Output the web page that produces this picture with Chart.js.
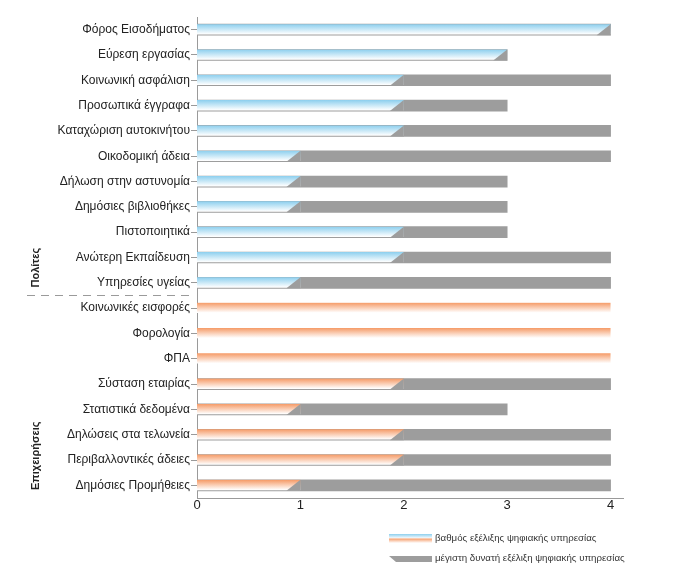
<!DOCTYPE html>
<html><head><meta charset="utf-8">
<script src="https://cdn.jsdelivr.net/npm/chart.js@4"></script>
<style>html,body{margin:0;padding:0;background:#fff}#wrap{width:687px;height:579px;position:relative}</style>
</head><body><div id="wrap"><canvas id="c" width="687" height="579"></canvas></div>
<script>
const categories = [
  'Φόρος Εισοδήματος','Εύρεση εργασίας','Κοινωνική ασφάλιση','Προσωπικά έγγραφα',
  'Καταχώριση αυτοκινήτου','Οικοδομική άδεια','Δήλωση στην αστυνομία','Δημόσιες βιβλιοθήκες',
  'Πιστοποιητικά','Ανώτερη Εκπαίδευση','Υπηρεσίες υγείας',
  'Κοινωνικές εισφορές','Φορολογία','ΦΠΑ','Σύσταση εταιρίας','Στατιστικά δεδομένα',
  'Δηλώσεις στα τελωνεία','Περιβαλλοντικές άδειες','Δημόσιες Προμήθειες'
];
const achieved    = [4,3,2,2,2,1,1,1,2,2,1, 4,4,4,2,1,2,2,1];
const maxPossible = [4,3,4,3,4,4,3,3,3,4,4, null,null,null,4,3,4,4,4];
const groupNames = ['Πολίτες','Επιχειρήσεις'];
const groupSizes = [11, 8];
const xTicks = [0,1,2,3,4];
const seriesLabels = ['βαθμός εξέλιξης ψηφιακής υπηρεσίας','μέγιστη δυνατή εξέλιξη ψηφιακής υπηρεσίας'];

const BLUE = '#8dcfee', ORANGE = '#f59a66', GRAY = '#9d9d9d', AXIS = '#9a9a9a';
const FONT = '"Liberation Sans", Arial, sans-serif';
const BAR_T = 11;
const groupColor = i => (i < groupSizes[0] ? BLUE : ORANGE);

function barGradient(c) {
  const chart = c.chart, ys = chart.scales && chart.scales.y;
  const col = groupColor(c.dataIndex);
  if (!ys || !chart.chartArea) return col;
  const yc = ys.getPixelForValue(c.dataIndex);
  const top = yc - BAR_T / 2;
  const g = chart.ctx.createLinearGradient(0, top, 0, top + BAR_T - 1);
  g.addColorStop(0, col);
  g.addColorStop(1, '#ffffff');
  return g;
}

const decorPlugin = {
  id: 'decor',
  afterDatasetsDraw(chart) {
    const meta = chart.getDatasetMeta(0);
    const ctx = chart.ctx, xs = chart.scales.x;
    const s = xs.getPixelForValue(0.135) - xs.getPixelForValue(0);
    ctx.save();
    ctx.fillStyle = GRAY;
    meta.data.forEach((el, i) => {
      if (maxPossible[i] == null) return;
      const x = xs.getPixelForValue(achieved[i]);
      const top = el.y - el.height / 2, bot = el.y + el.height / 2;
      ctx.beginPath();
      ctx.moveTo(x, top);
      ctx.lineTo(x, bot);
      ctx.lineTo(x - s, bot);
      ctx.closePath();
      ctx.fill();
    });
    ctx.restore();
  },
  afterDraw(chart) {
    const ctx = chart.ctx, ys = chart.scales.y;
    const step = ys.getPixelForTick(1) - ys.getPixelForTick(0);
    ctx.save();
    let start = 0;
    groupSizes.forEach((n, gi) => {
      const end = start + n - 1;
      const boundary = ys.getPixelForTick(end) + step / 2;
      if (gi < groupSizes.length - 1) {
        ctx.strokeStyle = AXIS; ctx.lineWidth = 1; ctx.setLineDash([8, 6]);
        ctx.beginPath(); ctx.moveTo(27, Math.round(boundary) + 0.5); ctx.lineTo(195, Math.round(boundary) + 0.5); ctx.stroke();
        ctx.setLineDash([]);
      }
      ctx.save();
      ctx.translate(36, boundary - 8);
      ctx.rotate(-Math.PI / 2);
      ctx.font = 'bold 11px ' + FONT;
      ctx.fillStyle = '#222';
      ctx.textAlign = 'left'; ctx.textBaseline = 'middle';
      ctx.fillText(groupNames[gi], 0, 0);
      ctx.restore();
      start += n;
    });
    // legend
    const lx = 389, lw = 43;
    let g1 = ctx.createLinearGradient(0, 534, 0, 538.5);
    g1.addColorStop(0, BLUE); g1.addColorStop(1, '#ffffff');
    ctx.fillStyle = g1; ctx.fillRect(lx, 534, lw, 4.5);
    let g2 = ctx.createLinearGradient(0, 538.5, 0, 543);
    g2.addColorStop(0, ORANGE); g2.addColorStop(1, '#ffffff');
    ctx.fillStyle = g2; ctx.fillRect(lx, 538.5, lw, 4.5);
    ctx.fillStyle = GRAY;
    ctx.beginPath(); ctx.moveTo(lx, 556); ctx.lineTo(lx + lw, 556); ctx.lineTo(lx + lw, 562); ctx.lineTo(lx + 7, 562); ctx.closePath(); ctx.fill();
    ctx.font = '9.7px ' + FONT; ctx.fillStyle = '#333';
    ctx.textAlign = 'left'; ctx.textBaseline = 'middle';
    ctx.fillText(seriesLabels[0], 435, 538.5);
    ctx.fillText(seriesLabels[1], 435, 558.5);
    ctx.restore();
  }
};

new Chart(document.getElementById('c'), {
  type: 'bar',
  data: {
    labels: categories,
    datasets: [
      {
        label: seriesLabels[0],
        data: achieved,
        backgroundColor: barGradient,
        borderColor: 'rgba(0,0,0,0)',
        borderWidth: {top: 0, right: 0, bottom: 1, left: 0},
        borderSkipped: false,
        barThickness: BAR_T,
        grouped: false
      },
      {
        label: seriesLabels[1],
        data: maxPossible.map(v => (v == null ? null : [0, v])),
        backgroundColor: GRAY,
        borderWidth: 0,
        barThickness: BAR_T,
        grouped: false
      }
    ]
  },
  options: {
    indexAxis: 'y',
    responsive: false,
    animation: false,
    devicePixelRatio: 1,
    layout: {padding: {top: 17, right: 64, left: 0, bottom: 0}},
    plugins: {legend: {display: false}, tooltip: {enabled: false}},
    scales: {
      x: {
        type: 'linear', min: 0, max: 4.12,
        afterBuildTicks: s => { s.ticks = xTicks.map(v => ({value: v})); },
        afterFit: s => { s.height = 81; },
        grid: {display: false, drawTicks: false},
        border: {display: true, color: AXIS, width: 1},
        ticks: {font: {family: FONT, size: 13}, color: '#222', padding: 0, maxRotation: 0}
      },
      y: {
        type: 'category', offset: true,
        afterFit: s => { s.width = 197; },
        grid: {display: true, offset: false, drawOnChartArea: false, drawTicks: true, tickLength: 6, color: AXIS},
        border: {display: true, color: AXIS, width: 1},
        ticks: {font: {family: FONT, size: 12}, color: '#222', padding: 1, autoSkip: false}
      }
    }
  },
  plugins: [decorPlugin]
});
</script>
</body></html>
